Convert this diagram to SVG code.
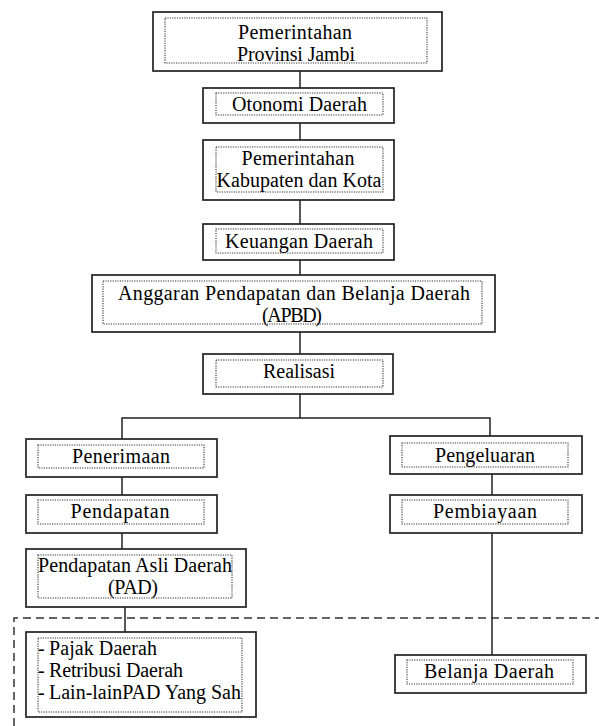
<svg xmlns="http://www.w3.org/2000/svg" width="599" height="726" viewBox="0 0 599 726">
<style>
.o{fill:#fff;stroke:#222;stroke-width:1.7}
.i{fill:none;stroke:#333;stroke-width:1.1;stroke-dasharray:1.2,1.2}
.c{fill:none;stroke:#222;stroke-width:1.5}
.d{fill:none;stroke:#333;stroke-width:1.5;stroke-dasharray:8,5}
text{font-family:"Liberation Serif","Times New Roman",serif;font-size:20px;fill:#000}
.m{text-anchor:middle}
</style>
<rect width="599" height="726" fill="#fff"/>
<g id="connectors">
<line class="c" x1="300" y1="71" x2="300" y2="88"/>
<line class="c" x1="300" y1="123" x2="300" y2="140"/>
<line class="c" x1="300" y1="200" x2="300" y2="224"/>
<line class="c" x1="300" y1="260" x2="300" y2="275"/>
<line class="c" x1="300" y1="332" x2="300" y2="354"/>
<polyline class="c" points="300,394 300,418 122,418 122,439"/>
<polyline class="c" points="300,418 490,418 490,436"/>
<line class="c" x1="122" y1="477" x2="122" y2="495"/>
<line class="c" x1="122" y1="533" x2="122" y2="549"/>
<line class="c" x1="125" y1="607" x2="125" y2="632"/>
<line class="c" x1="492" y1="474" x2="492" y2="495"/>
<line class="c" x1="492" y1="533" x2="492" y2="655"/>
<polyline class="d" points="14,726 14,618 599,618"/>
</g>
<g id="prov">
<rect class="o" x="153" y="12" width="289" height="59"/>
<rect class="i" x="165" y="18" width="262" height="45"/>
<text class="m" x="295" y="39" textLength="114" lengthAdjust="spacing">Pemerintahan</text>
<text class="m" x="296" y="61" textLength="118" lengthAdjust="spacing">Provinsi Jambi</text>
</g>
<g id="otonomi">
<rect class="o" x="203" y="88" width="191" height="35"/>
<rect class="i" x="216" y="93" width="167" height="22"/>
<text class="m" x="299.5" y="111" textLength="135" lengthAdjust="spacing">Otonomi Daerah</text>
</g>
<g id="kab">
<rect class="o" x="203" y="140" width="191" height="60"/>
<rect class="i" x="216" y="147" width="167" height="45"/>
<text class="m" x="298" y="165" textLength="113" lengthAdjust="spacing">Pemerintahan</text>
<text class="m" x="299" y="187" textLength="165" lengthAdjust="spacing">Kabupaten dan Kota</text>
</g>
<g id="keuangan">
<rect class="o" x="203" y="224" width="191" height="36"/>
<rect class="i" x="216" y="229" width="167" height="24"/>
<text class="m" x="299" y="248" textLength="148" lengthAdjust="spacing">Keuangan Daerah</text>
</g>
<g id="apbd">
<rect class="o" x="92" y="275" width="403" height="57"/>
<rect class="i" x="103" y="281" width="379" height="43"/>
<text class="m" x="294" y="300" textLength="352" lengthAdjust="spacing">Anggaran Pendapatan dan Belanja Daerah</text>
<text class="m" x="292" y="322" textLength="60" lengthAdjust="spacing">(APBD)</text>
</g>
<g id="realisasi">
<rect class="o" x="203" y="354" width="190" height="40"/>
<rect class="i" x="216" y="360" width="167" height="27"/>
<text class="m" x="299" y="378" textLength="72" lengthAdjust="spacing">Realisasi</text>
</g>
<g id="penerimaan">
<rect class="o" x="26" y="439" width="191" height="38"/>
<rect class="i" x="38" y="445" width="166" height="23"/>
<text class="m" x="121" y="463" textLength="98" lengthAdjust="spacing">Penerimaan</text>
</g>
<g id="pendapatan">
<rect class="o" x="26" y="495" width="191" height="38"/>
<rect class="i" x="38" y="500" width="166" height="24"/>
<text class="m" x="120" y="518" textLength="99" lengthAdjust="spacing">Pendapatan</text>
</g>
<g id="pad">
<rect class="o" x="26" y="549" width="220" height="58"/>
<rect class="i" x="38" y="555" width="194" height="43"/>
<text class="m" x="135" y="572" textLength="194" lengthAdjust="spacing">Pendapatan Asli Daerah</text>
<text class="m" x="133" y="594" textLength="50" lengthAdjust="spacing">(PAD)</text>
</g>
<g id="padlist">
<rect class="o" x="26" y="632" width="230" height="85"/>
<rect class="i" x="38" y="638" width="204" height="74"/>
<text x="38" y="655">-</text><text x="49" y="655" textLength="108" lengthAdjust="spacing">Pajak Daerah</text>
<text x="38" y="677">-</text><text x="49" y="677" textLength="134" lengthAdjust="spacing">Retribusi Daerah</text>
<text x="38" y="699">-</text><text x="49" y="699" textLength="192" lengthAdjust="spacing">Lain-lainPAD Yang Sah</text>
</g>
<g id="pengeluaran">
<rect class="o" x="390" y="436" width="192" height="38"/>
<rect class="i" x="402" y="443" width="166" height="24"/>
<text class="m" x="485" y="462" textLength="100" lengthAdjust="spacing">Pengeluaran</text>
</g>
<g id="pembiayaan">
<rect class="o" x="390" y="495" width="192" height="38"/>
<rect class="i" x="402" y="500" width="166" height="24"/>
<text class="m" x="485" y="518" textLength="104" lengthAdjust="spacing">Pembiayaan</text>
</g>
<g id="belanja">
<rect class="o" x="395" y="655" width="191" height="38"/>
<rect class="i" x="407" y="660" width="166" height="24"/>
<text class="m" x="489" y="678" textLength="130" lengthAdjust="spacing">Belanja Daerah</text>
</g>
</svg>
